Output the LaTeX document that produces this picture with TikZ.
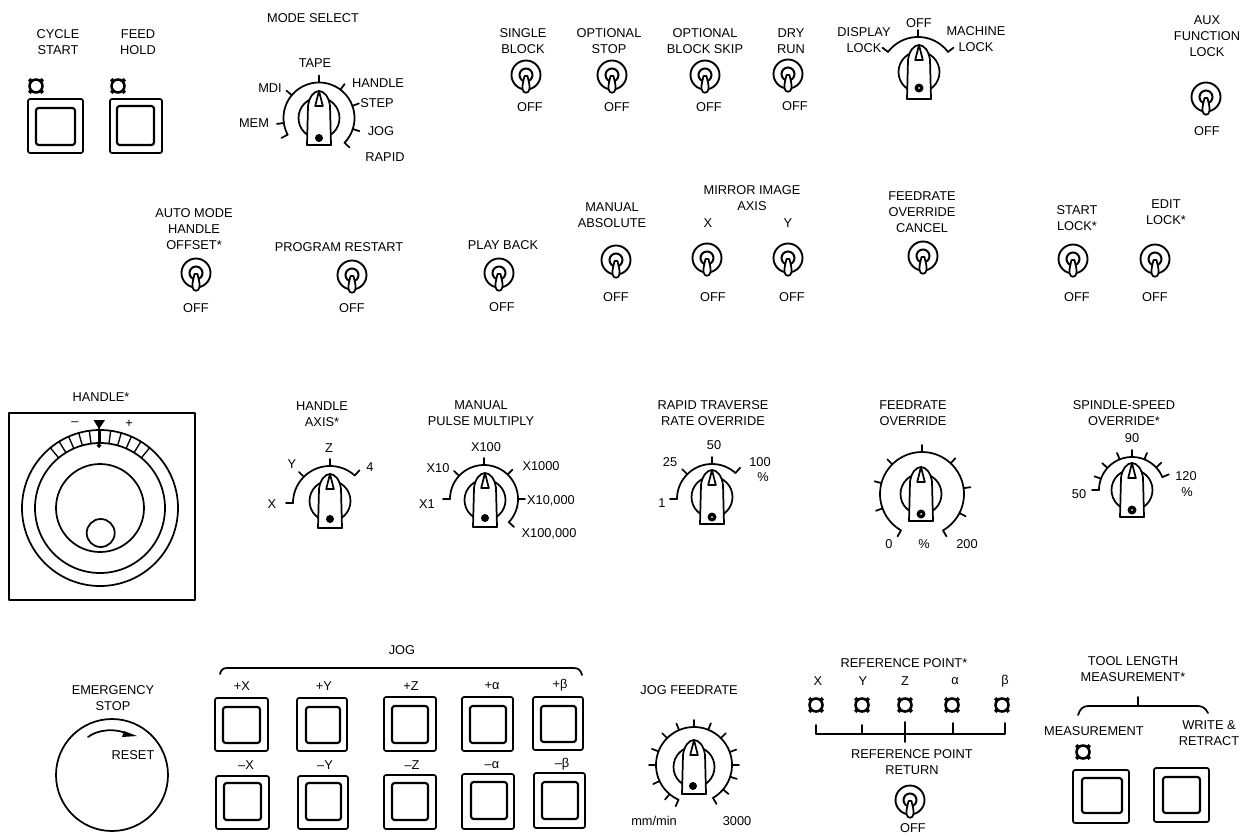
\documentclass[tikz,border=0pt]{standalone}
\usepackage{fontspec}
\setmainfont{Liberation Sans}
\newcounter{lblc}
\tikzset{
  ln/.style={line width=1.3pt,line cap=round,line join=round},
  thin ln/.style={line width=1pt,line cap=round,line join=round},
  heavy ln/.style={line width=1.6pt,line cap=round,line join=round},
  lab/.style={inner sep=0pt,align=center,font=\fontsize{9.6pt}{12pt}\selectfont}
}
\newcommand{\Lbl}[3]{\stepcounter{lblc}\node[lab] (t\arabic{lblc}) at (#1,#2) {#3};}
\newcommand{\Btn}[8]{%
  \draw[ln,rounded corners=1.6] (#1,#2) rectangle (#3,#4);
  \draw[heavy ln,rounded corners=2] (#5,#6) rectangle (#7,#8);}
\newcommand{\Lamp}[2]{%
  \foreach \a in {45,135,225,315}
    \draw[line width=2.6pt] ({#1+5*cos(\a)},{#2+5*sin(\a)}) -- ({#1+9.6*cos(\a)},{#2+9.6*sin(\a)});
  \draw[line width=1.9pt,fill=white] (#1,#2) circle[radius=6.5];}
\newcommand{\Tog}[2]{%
  \draw[line width=1.4pt] (#1,#2) circle[radius=14.5];
  \draw[line width=1.5pt] (#1,#2) circle[radius=6.5];
  \draw[ln,fill=white] (#1-1.5,#2+1) .. controls (#1-2.5,#2+6) and (#1-4,#2+10) .. (#1-3.5,#2+14)
     .. controls (#1-3,#2+19) and (#1+3,#2+19) .. (#1+3.5,#2+14)
     .. controls (#1+4,#2+10) and (#1+2.5,#2+6) .. (#1+1.5,#2+1) -- cycle;}
\newcommand{\Knob}[2]{%
  \draw[ln] (#1,#2) circle[radius=20.5];
  \draw[ln,fill=white] (#1-12,#2+27) -- (#1-11,#2-12)
     .. controls (#1-10,#2-21) and (#1-5,#2-27) .. (#1,#2-27)
     .. controls (#1+5,#2-27) and (#1+10,#2-21) .. (#1+11,#2-12) -- (#1+12,#2+27) -- cycle;
  \draw[ln,fill=white] (#1,#2-27) -- (#1-3.8,#2-12) -- (#1+3.8,#2-12) -- cycle;}
\newcommand{\DotK}[2]{\fill (#1,#2+20) circle[radius=4];}
\newcommand{\RingK}[2]{\fill (#1,#2+20) circle[radius=4.5]; \fill[white] (#1,#2+20) circle[radius=1];}
\newcommand{\Arcc}[5]{\draw[ln] plot[domain=#4:#5,samples=70] ({#1+#3*cos(\x)},{#2-#3*sin(\x)});}
\newcommand{\Tks}[5]{\foreach \a in {#5}
   \draw[ln] ({#1+#3*cos(\a)},{#2-#3*sin(\a)}) -- ({#1+(#3+#4)*cos(\a)},{#2-(#3+#4)*sin(\a)});}
\begin{document}
\begin{tikzpicture}[x=0.75pt,y=-0.75pt]
\path[use as bounding box,fill=white] (0,0) rectangle (1249,836);
% Cycle start / feed hold
\Lbl{58}{42}{CYCLE\\START}
\Lbl{138}{42}{FEED\\HOLD}
\Lamp{36}{86}
\Lamp{118}{86}
\Btn{28}{99}{83}{153}{36}{108}{75}{145}
\Btn{110}{99}{162}{153}{117}{106}{154}{145}
% Mode select
\Lbl{313}{18}{MODE SELECT}
\Lbl{315}{63}{TAPE}
\Lbl{270}{88}{MDI}
\Lbl{378}{83}{HANDLE}
\Lbl{377}{103}{STEP}
\Lbl{254}{123}{MEM}
\Lbl{381}{131}{JOG}
\Lbl{385}{157}{RAPID}
\Arcc{319}{118}{35.5}{-44}{208}
\Tks{319}{118}{35.5}{7}{-44,-18,20,53,90,140,188,208}
\Knob{319}{118}
\DotK{319}{118}
% Top toggles
\Lbl{523}{41}{SINGLE\\BLOCK}
\Lbl{609}{41}{OPTIONAL\\STOP}
\Lbl{705}{41}{OPTIONAL\\BLOCK SKIP}
\Lbl{791}{41}{DRY\\RUN}
\Tog{526}{75}
\Tog{612}{75}
\Tog{705}{75}
\Tog{788}{74}
\Lbl{530}{107}{OFF}
\Lbl{617}{107}{OFF}
\Lbl{709}{107}{OFF}
\Lbl{795}{106}{OFF}
% Display lock
\Lbl{919}{23}{OFF}
\Lbl{864}{40}{DISPLAY\\LOCK}
\Lbl{976}{39}{MACHINE\\LOCK}
\Arcc{918}{74.5}{37.5}{37}{143}
\Tks{918}{74.5}{37.5}{7}{37,90,143}
\Knob{919}{72}
\RingK{919}{68}
% Aux
\Lbl{1207}{36}{AUX\\FUNCTION\\LOCK}
\Tog{1206}{97}
\Lbl{1207}{131}{OFF}
% Row 2
\Lbl{194}{229}{AUTO MODE\\HANDLE\\OFFSET*}
\Tog{196}{273}
\Lbl{196}{308}{OFF}
\Lbl{339}{247}{PROGRAM RESTART}
\Tog{352}{275}
\Lbl{352}{308}{OFF}
\Lbl{503}{245}{PLAY BACK}
\Tog{499}{273}
\Lbl{502}{307}{OFF}
\Lbl{612}{215}{MANUAL\\ABSOLUTE}
\Tog{616}{260}
\Lbl{616}{297}{OFF}
\Lbl{752}{198}{MIRROR IMAGE\\AXIS}
\Lbl{708}{223}{X}
\Lbl{788}{223}{Y}
\Tog{707}{258}
\Tog{788}{258}
\Lbl{713}{297}{OFF}
\Lbl{792}{297}{OFF}
\Lbl{922}{212}{FEEDRATE\\OVERRIDE\\CANCEL}
\Tog{923}{256}
\Lbl{1077}{218}{START\\LOCK*}
\Tog{1073}{259}
\Lbl{1077}{297}{OFF}
\Lbl{1166}{212}{EDIT\\LOCK*}
\Tog{1155}{259}
\Lbl{1155}{297}{OFF}
% Handle
\Lbl{101}{397}{HANDLE*}
\draw[ln] (9,413) rectangle (195,600);
\draw[ln] (100,508) circle[radius=78];
\draw[ln] (100,508) circle[radius=65];
\draw[ln] (100,508) circle[radius=44];
\draw[ln] (100.7,533) circle[radius=14];
\foreach \a in {50.5,58.4,...,129.6}
  \draw[thin ln] ({100+65*cos(\a)},{508-65*sin(\a)}) -- ({100+78*cos(\a)},{508-78*sin(\a)});
\fill (93.5,420) -- (105,420) -- (99,429) -- cycle;
\draw[thin ln] (99,425) -- (99,445);
\fill (96.5,445.5) -- (99,443) -- (101.5,445.5) -- (99,448) -- cycle;
\Lbl{75}{424}{–}
\Lbl{129}{424}{+}
% Handle axis
\Lbl{322}{414}{HANDLE\\AXIS*}
\Lbl{329}{448}{Z}
\Lbl{292}{464}{Y}
\Lbl{370}{467}{4}
\Lbl{272}{504}{X}
\Arcc{330}{503}{37}{48}{180}
\Tks{330}{503}{37}{7}{48,90,135,180}
\Knob{330}{501}
\DotK{330}{499}
% Manual pulse
\Lbl{481}{413}{MANUAL\\PULSE MULTIPLY}
\Lbl{486}{447}{X100}
\Lbl{438}{468}{X10}
\Lbl{427}{504}{X1}
\Lbl{541}{466}{X1000}
\Lbl{551}{501}{X10,000}
\Lbl{549}{534}{X100,000}
\Arcc{484}{499}{34}{-43}{180}
\Tks{484}{499}{34}{7}{-43,0,46,90,137,180}
\Knob{485}{500}
\DotK{485}{498}
% Rapid
\Lbl{713}{413}{RAPID TRAVERSE\\RATE OVERRIDE}
\Lbl{714}{445}{50}
\Lbl{670}{462}{25}
\Lbl{760}{462}{100}
\Lbl{763}{477}{\%}
\Lbl{662}{503}{1}
\Arcc{712}{499}{35}{48}{180}
\Tks{712}{499}{35}{7}{48,90,135,180}
\Knob{712}{497}
\RingK{712}{497}
% Feedrate
\Lbl{913}{413}{FEEDRATE\\OVERRIDE}
\Lbl{889}{544}{0}
\Lbl{924}{544}{\%}
\Lbl{967}{544}{200}
\Arcc{922}{494}{42}{-60}{240}
\Tks{922}{494}{42}{7}{-60,-27,8,47,90,135,165,200,240}
\Knob{921}{494}
\RingK{921}{494}
% Spindle
\Lbl{1124}{413}{SPINDLE-SPEED\\OVERRIDE*}
\Lbl{1132}{438}{90}
\Lbl{1079}{494}{50}
\Lbl{1186}{476}{120}
\Lbl{1187}{492}{\%}
\Arcc{1132}{490}{33}{23}{180}
\Tks{1132}{490}{33}{7}{23,43,68,90,112,138,160,180}
\Knob{1132}{490}
\RingK{1132}{490}
% Emergency
\Lbl{113}{698}{EMERGENCY\\STOP}
\draw[ln] (112,775) circle[radius=56];
\Lbl{133}{755}{RESET}
\draw[ln] (88,737) .. controls (97,730) and (115,727) .. (130,735);
\fill (124,731) -- (137,736) -- (122,737) -- cycle;
% Jog
\Lbl{402}{650}{JOG}
\draw[ln] (220,674) .. controls (221,670) and (223,668) .. (227,668) -- (574,668) .. controls (579,668) and (581,671) .. (582,675);
\Lbl{242}{686}{+X}
\Lbl{324}{686}{+Y}
\Lbl{411}{686}{+Z}
\Lbl{492}{686}{+α}
\Lbl{560}{685}{+β}
\Lbl{246}{765}{–X}
\Lbl{325}{765}{–Y}
\Lbl{412}{765}{–Z}
\Lbl{492}{765}{–α}
\Lbl{562}{764}{–β}
\Btn{215}{698}{268}{751}{223}{707}{260}{743}
\Btn{297}{698}{347}{751}{306}{707}{340}{743}
\Btn{384}{697}{436}{751}{392}{706}{428}{743}
\Btn{462}{697}{513}{751}{470}{706}{506}{743}
\Btn{533}{697}{583}{750}{541}{706}{576}{742}
\Btn{216}{776}{269}{829}{224}{783}{261}{820}
\Btn{298}{776}{348}{829}{306}{783}{341}{820}
\Btn{384}{775}{436}{829}{392}{783}{428}{820}
\Btn{462}{774}{514}{829}{471}{782}{507}{819}
\Btn{534}{773}{585}{828}{542}{782}{578}{819}
% Jog feedrate
\Lbl{689}{690}{JOG FEEDRATE}
\Lbl{654}{821}{mm/min}
\Lbl{737}{821}{3000}
\Arcc{694}{765}{38}{-60}{246}
\Tks{694}{765}{38}{7}{-60,-40,-18,0,20,45,68,90,113,135,159,180,205,230,246}
\Knob{694}{767}
\DotK{693}{766}
% Reference point
\Lbl{904}{663}{REFERENCE POINT*}
\Lbl{818}{681}{X}
\Lbl{863}{681}{Y}
\Lbl{905}{681}{Z}
\Lbl{955}{681}{α}
\Lbl{1005}{681}{β}
\Lamp{816}{705}
\Lamp{862}{705}
\Lamp{905}{705}
\Lamp{952}{705}
\Lamp{1002}{705}
\draw[ln] (816,725) -- (816,734) -- (1005,734) -- (1005,723);
\draw[ln] (862,725) -- (862,734);
\draw[ln] (905,722) -- (905,742);
\draw[ln] (953,723) -- (953,734);
\Lbl{912}{762}{REFERENCE POINT\\RETURN}
\Tog{910}{800}
\Lbl{913}{828}{OFF}
% Tool length
\Lbl{1133}{669}{TOOL LENGTH\\MEASUREMENT*}
\draw[ln] (1138,697) -- (1138,706);
\draw[ln] (1078,715) .. controls (1080,709) and (1083,706) .. (1088,706) -- (1198,706) .. controls (1203,706) and (1206,709) .. (1208,713);
\Lbl{1094}{731}{MEASUREMENT}
\Lbl{1209}{733}{WRITE \&\\RETRACT}
\Lamp{1083}{752}
\Btn{1073}{770}{1129}{823}{1082}{778}{1122}{813}
\Btn{1154}{768}{1209}{822}{1163}{777}{1200}{813}
\end{tikzpicture}
\end{document}
